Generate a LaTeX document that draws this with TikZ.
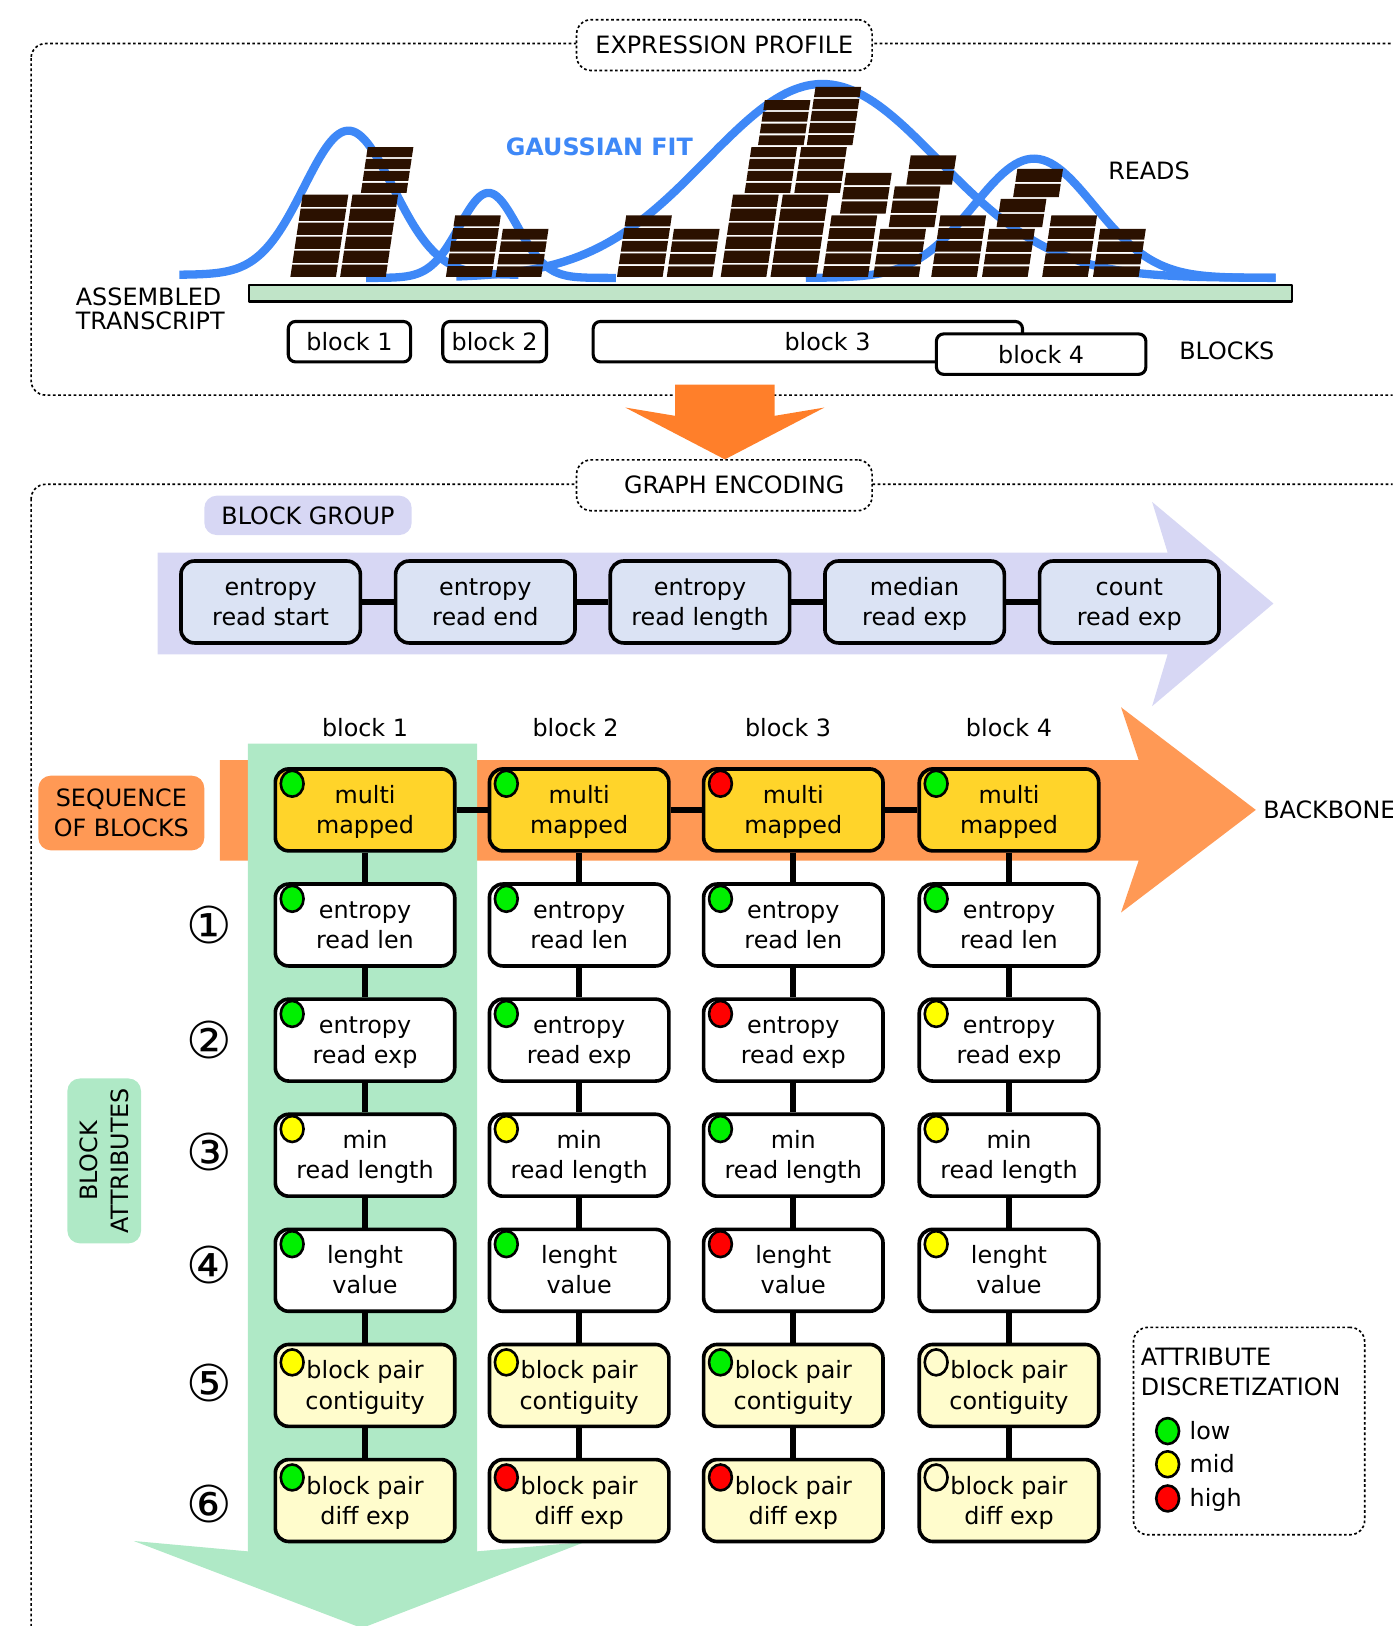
\documentclass[tikz,border=0pt]{standalone}
\usepackage{fontspec}
\setmainfont{DejaVu Sans}
\usetikzlibrary{shapes.geometric}
\definecolor{gblue}{RGB}{62,136,247}
\definecolor{readc}{RGB}{43,17,0}
\definecolor{barg}{RGB}{192,228,200}
\definecolor{arrowor}{RGB}{255,127,42}
\definecolor{bbor}{RGB}{255,153,85}
\definecolor{lav}{RGB}{215,215,244}
\definecolor{grpfill}{RGB}{219,227,244}
\definecolor{bandg}{RGB}{175,233,198}
\definecolor{multiy}{RGB}{255,212,42}
\definecolor{pairy}{RGB}{255,252,204}
\definecolor{dg}{RGB}{0,240,0}
\definecolor{dy}{RGB}{255,255,0}
\definecolor{dr}{RGB}{255,0,0}
\begin{document}
\begin{tikzpicture}[x=1pt,y=-1pt,font=\fontsize{23}{29}\selectfont,line join=round,
  dotframe/.style={draw,line width=1.6pt,dash pattern=on 2.6pt off 2.4pt,rounded corners=14pt},
  lbl/.style={dotframe,fill=white,minimum width=285pt,minimum height=49pt,inner sep=0pt},
  blk/.style={draw,line width=3pt,rounded corners=7pt,fill=white,minimum height=39pt,inner sep=0pt},
  grp/.style={draw,line width=3.5pt,rounded corners=13pt,fill=grpfill,minimum width=173pt,minimum height=79pt,inner sep=0pt,align=center,text height=45.5pt,text depth=0pt},
  attr/.style={draw,line width=3.5pt,rounded corners=13pt,fill=white,minimum width=173pt,minimum height=79pt,inner sep=0pt,align=center,text height=45.5pt,text depth=0pt},
  link/.style={line width=6pt},
  gauss/.style={gblue,line width=8pt},
  dot/.style={ellipse,draw,line width=2.5pt,minimum width=22pt,minimum height=25pt,inner sep=0pt},
  cnum/.style={font=\fontsize{49}{49}\selectfont,inner sep=0pt}]
\useasboundingbox (0,0) rectangle (1343,1568);
\clip (0,0) rectangle (1343,1568);

% ---------------- EXPRESSION PROFILE ----------------
\draw[dotframe] (30,42) rectangle (1390,381);
\node[lbl] (ep) at (698.5,43.5) {EXPRESSION PROFILE};

\draw[gauss] plot[domain=173:500,samples=120] (\x,{265-139*exp(-0.5*(((\x-336)/43)^2))});
\draw[gauss] plot[domain=353:594,samples=100] (\x,{268-82*exp(-0.5*(((\x-471)/28)^2))});
\draw[gauss] plot[domain=440:1230,samples=160] (\x,{268-187*exp(-0.5*(((\x-793)/112)^2))});
\draw[gauss] plot[domain=777:1230,samples=120] (\x,{268-115*exp(-0.5*(((\x-997)/58)^2))});

\foreach \xx/\yb/\n/\p in {280/267/6/13.5,328/267/6/13.5,348/186/4/11.5,
  430/267/5/12.2,478/267/4/12,595/267/5/12.2,643/267/4/12,
  695/267/6/13.5,718/186/4/11.5,731/140/4/11.3,
  743/267/6/13.5,766/186/4/11.5,778/140/5/11.6,
  793/267/5/12.2,810/206/3/13.7,
  842/267/4/12,857/219/3/13.7,874/178/2/15,
  898/267/5/12.2,947/267/4/12,961/219/2/14.5,977/190/2/14.5,
  1005/267/5/12.2,1054/267/4/12}{
  \foreach \i in {1,...,\n}{
    \pgfmathsetmacro\ya{\yb-(\i-1)*\p}
    \pgfmathsetmacro\yt{\yb-\i*\p+1.8}
    \pgfmathsetmacro\xa{\xx+0.15*(\i-1)*\p}
    \pgfmathsetmacro\xt{\xx+0.15*(\i*\p-1.8)}
    \fill[readc] (\xa,\ya) -- (\xa+44,\ya) -- (\xt+44,\yt) -- (\xt,\yt) -- cycle;
  }
}

\node[draw,line width=2.5pt,fill=barg,minimum width=1006pt,minimum height=16pt,inner sep=0pt] (tr) at (743,283) {};
\node[anchor=north west,align=left,inner sep=0pt,font=\fontsize{23}{23}\selectfont] (at) at (73,277) {ASSEMBLED\\TRANSCRIPT};
\node[text=gblue,font=\fontsize{23}{29}\selectfont\bfseries] (gf) at (578,142) {GAUSSIAN FIT};
\node (rd) at (1108,165) {READS};

\node[blk,minimum width=118pt] (b1) at (337,329.5) {block 1};
\node[blk,minimum width=100pt] (b2) at (477,329.5) {block 2};
\node[blk,minimum width=414pt] (b3) at (779,329.5) {};
\node (b3t) at (798,329.5) {block 3};
\node[blk,minimum width=202pt] (b4) at (1004,341.5) {block 4};
\node (bl) at (1183,338) {BLOCKS};

\fill[arrowor] (651,371) -- (747,371) -- (747,401) -- (795,393) -- (699,443) -- (603,393) -- (651,401) -- cycle;

% ---------------- GRAPH ENCODING ----------------
\draw[dotframe] (30,467) rectangle (1390,1650);
\node[lbl] (ge) at (698.5,468) {};
\node (get) at (708,468) {GRAPH ENCODING};

\node[fill=lav,rounded corners=12pt,minimum width=200pt,minimum height=38pt,inner sep=0pt] (bg) at (297,497) {BLOCK GROUP};
\fill[lav] (152,533) -- (1126,533) -- (1111,484) -- (1228,582) -- (1111,681) -- (1126,631) -- (152,631) -- cycle;

\node[grp] (g1) at (261,580.5) {entropy\\read start};
\node[grp] (g2) at (468,580.5) {entropy\\read end};
\node[grp] (g3) at (675,580.5) {entropy\\read length};
\node[grp] (g4) at (882,580.5) {median\\read exp};
\node[grp] (g5) at (1089,580.5) {count\\read exp};
\foreach \a/\b in {g1/g2,g2/g3,g3/g4,g4/g5}{\draw[line width=5.5pt] (\a) -- (\b);}

\node (t1) at (352,702) {block 1};
\node (t2) at (555,702) {block 2};
\node (t3) at (760,702) {block 3};
\node (t4) at (973,702) {block 4};

\fill[bbor] (212,733) -- (1098,733) -- (1081,682) -- (1211,781) -- (1081,880) -- (1098,830) -- (212,830) -- cycle;
\fill[bandg] (239,717) -- (460,717) -- (460,1496) -- (564,1487) -- (349,1570) -- (129,1486) -- (239,1496) -- cycle;

\node[fill=bbor,rounded corners=12pt,minimum width=160pt,minimum height=72pt,align=center,inner sep=0pt] (seq) at (117,784) {SEQUENCE\\OF BLOCKS};
\node[anchor=west,inner sep=0pt] (bb) at (1218,781) {BACKBONE};

\foreach \c/\xx in {1/352,2/558.5,3/765,4/973}{
  \node[attr,fill=multiy] (c\c-r0) at (\xx,781) {multi\\mapped};
  \node[attr] (c\c-r1) at (\xx,892) {entropy\\read len};
  \node[attr] (c\c-r2) at (\xx,1003) {entropy\\read exp};
  \node[attr] (c\c-r3) at (\xx,1114) {min\\read length};
  \node[attr] (c\c-r4) at (\xx,1225) {lenght\\value};
  \node[attr,fill=pairy] (c\c-r5) at (\xx,1336) {block pair\\contiguity};
  \node[attr,fill=pairy] (c\c-r6) at (\xx,1447) {block pair\\diff exp};
  \foreach \r/\s in {0/1,1/2,2/3,3/4,4/5,5/6}{\draw[link] (c\c-r\r) -- (c\c-r\s);}
}
\foreach \a/\b in {1/2,2/3,3/4}{\draw[link] (c\a-r0) -- (c\b-r0);}

\foreach \c/\cl in {1/{dg,dg,dg,dy,dg,dy,dg},2/{dg,dg,dg,dy,dg,dy,dr},3/{dr,dg,dr,dg,dr,dg,dr},4/{dg,dg,dy,dy,dy,pairy,pairy}}{
  \foreach \col [count=\k from 0] in \cl {
    \pgfmathsetmacro\dyy{\k>4 ? 19 : 16}
    \path (c\c-r\k.north west) ++(18,\dyy) node[dot,fill=\col] (d\c-\k) {};
  }
}

\node[cnum] (n1) at (202,892) {①};
\node[cnum] (n2) at (202,1003) {②};
\node[cnum] (n3) at (202,1111) {③};
\node[cnum] (n4) at (202,1220) {④};
\node[cnum] (n5) at (202,1334) {⑤};
\node[cnum] (n6) at (202,1450) {⑥};

\node[fill=bandg,rounded corners=12pt,rotate=90,minimum width=159pt,minimum height=71pt,align=center,inner sep=0pt,font=\fontsize{23}{30}\selectfont] (ba) at (100.5,1119.5) {BLOCK\\ATTRIBUTES};

% legend
\node[dotframe,minimum width=223pt,minimum height=200pt,inner sep=0pt] (leg) at (1204.5,1380) {};
\node[anchor=north west,align=left,inner sep=0pt] (legt) at (1100,1300) {ATTRIBUTE\\DISCRETIZATION};
\node[dot,fill=dg] (lg) at (1126,1380) {};
\node[dot,fill=dy] (ly) at (1126,1412) {};
\node[dot,fill=dr] (lr) at (1126,1445) {};
\node[anchor=base west,inner sep=0pt] (llow) at (1147,1388) {low};
\node[anchor=base west,inner sep=0pt] (lmid) at (1147,1420) {mid};
\node[anchor=base west,inner sep=0pt] (lhigh) at (1147,1453) {high};
\end{tikzpicture}
\end{document}
